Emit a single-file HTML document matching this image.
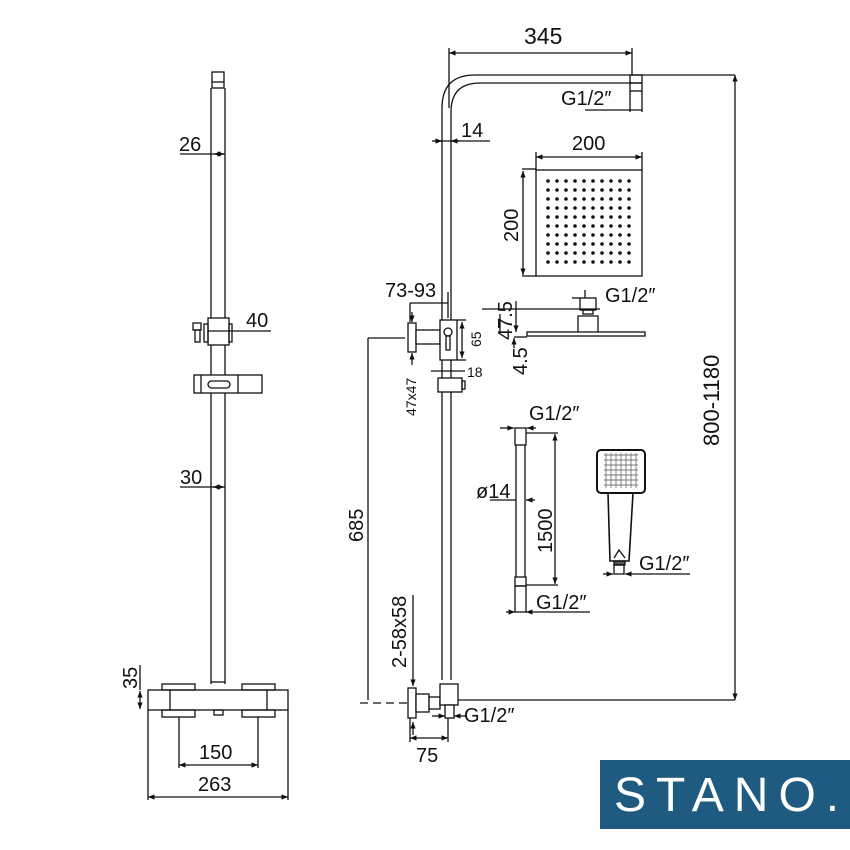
<!DOCTYPE html>
<html><head><meta charset="utf-8"><style>
html,body{margin:0;padding:0;background:#fff;width:850px;height:850px;overflow:hidden}
svg{display:block}
text{font-family:"Liberation Sans",sans-serif;fill:#111}
</style></head><body>
<svg width="850" height="850" viewBox="0 0 850 850" xmlns="http://www.w3.org/2000/svg">
<defs>
<marker id="a" viewBox="0 0 10 10" refX="10" refY="5" markerWidth="5" markerHeight="5" orient="auto-start-reverse"><path d="M0,1L10,5L0,9z" fill="#111"/></marker>
</defs>
<g stroke="#111" stroke-width="1.3" fill="none">
<rect x="212" y="72" width="12" height="16"/>
<line x1="212" y1="82" x2="224" y2="82"/>
<line x1="211" y1="88" x2="211" y2="318"/><line x1="225" y1="88" x2="225" y2="318"/>
<line x1="180" y1="154" x2="225" y2="154"/>
<line x1="214" y1="154" x2="224" y2="154" marker-start="url(#a)" marker-end="url(#a)"/>
<rect x="208" y="318" width="21" height="27" fill="#fff"/>
<rect x="204" y="324" width="4" height="18"/><rect x="229" y="324" width="3" height="18"/>
<rect x="193" y="323" width="8" height="7"/><rect x="195" y="330" width="5" height="12"/>
<line x1="208" y1="331" x2="271" y2="331"/>
<line x1="211" y1="345" x2="211" y2="375"/><line x1="225" y1="345" x2="225" y2="375"/>
<rect x="194" y="375" width="68" height="18"/>
<line x1="201" y1="375" x2="201" y2="393"/><line x1="238" y1="375" x2="238" y2="393"/>
<rect x="208" y="381" width="22" height="7" rx="3.5"/>
<line x1="211" y1="393" x2="211" y2="684"/><line x1="225" y1="393" x2="225" y2="684"/>
<line x1="180" y1="487" x2="225" y2="487"/>
<line x1="213" y1="487" x2="224" y2="487" marker-start="url(#a)" marker-end="url(#a)"/>
<line x1="211" y1="682" x2="225" y2="682"/>
<rect x="148" y="690" width="140" height="20"/>
<line x1="170" y1="690" x2="170" y2="710"/><line x1="267" y1="690" x2="267" y2="710"/>
<rect x="162" y="684" width="33" height="6"/><rect x="242" y="684" width="33" height="6"/>
<rect x="162" y="710" width="33" height="7"/><rect x="242" y="710" width="33" height="7"/>
<rect x="214" y="710" width="9" height="5"/>
<line x1="140" y1="665" x2="140" y2="690"/>
<line x1="140" y1="691" x2="140" y2="709" marker-start="url(#a)" marker-end="url(#a)"/>
<line x1="179" y1="717" x2="179" y2="768"/><line x1="258" y1="717" x2="258" y2="768"/>
<line x1="179" y1="765" x2="258" y2="765" marker-start="url(#a)" marker-end="url(#a)"/>
<line x1="148" y1="710" x2="148" y2="800"/><line x1="288" y1="710" x2="288" y2="800"/>
<line x1="148" y1="797" x2="288" y2="797" marker-start="url(#a)" marker-end="url(#a)"/>

<path d="M442,680 V108 Q442,75 475,75 H632"/>
<path d="M451,680 V112 Q451,83 480,83 H632"/>
<line x1="632" y1="75" x2="735" y2="75"/>
<rect x="630" y="75" width="12" height="8"/>
<rect x="630" y="83" width="12" height="8"/>
<line x1="630" y1="91" x2="630" y2="112"/><line x1="642" y1="91" x2="642" y2="112"/>
<line x1="585" y1="110" x2="642" y2="110"/>
<line x1="449" y1="48" x2="449" y2="108"/><line x1="632" y1="48" x2="632" y2="75"/>
<line x1="449" y1="53" x2="632" y2="53" marker-start="url(#a)" marker-end="url(#a)"/>
<line x1="432" y1="141" x2="490" y2="141"/>
<line x1="434" y1="141" x2="442" y2="141" marker-end="url(#a)"/>
<line x1="460" y1="141" x2="451" y2="141" marker-end="url(#a)"/>
<line x1="735" y1="75" x2="735" y2="700" marker-start="url(#a)" marker-end="url(#a)"/>
<line x1="455" y1="700" x2="735" y2="700"/>

<line x1="410" y1="303" x2="448" y2="303"/>
<line x1="410" y1="303" x2="410" y2="322"/><line x1="448" y1="292" x2="448" y2="318"/>
<rect x="408" y="323" width="8" height="29" fill="#fff"/>
<rect x="416" y="330" width="24" height="14" fill="#fff"/>
<rect x="440" y="320" width="17" height="40" fill="#fff"/>
<circle cx="448" cy="332" r="4"/>
<rect x="446" y="336" width="4" height="14"/>
<line x1="457" y1="320" x2="466" y2="320"/><line x1="457" y1="360" x2="466" y2="360"/>
<line x1="462" y1="322" x2="462" y2="358" marker-start="url(#a)" marker-end="url(#a)"/>
<line x1="412" y1="312" x2="412" y2="322" marker-end="url(#a)"/>
<line x1="412" y1="365" x2="412" y2="353" marker-end="url(#a)"/>
<line x1="431" y1="371" x2="465" y2="371"/>
<rect x="438" y="378" width="24" height="14" fill="#fff"/>
<rect x="462" y="381" width="3" height="8"/>
<line x1="368" y1="338" x2="405" y2="338"/>
<line x1="368" y1="338" x2="368" y2="700"/>
<line x1="360" y1="703" x2="408" y2="703" stroke-dasharray="8,5"/>

<line x1="413" y1="595" x2="413" y2="686" marker-end="url(#a)"/>
<rect x="408" y="688" width="8" height="30" fill="#fff"/>
<rect x="416" y="694" width="13" height="18" fill="#fff"/>
<rect x="429" y="697" width="11" height="12" fill="#fff"/>
<rect x="440" y="684" width="18" height="21" fill="#fff"/>
<rect x="445" y="705" width="9" height="13" fill="#fff"/>
<line x1="413" y1="735" x2="413" y2="722" marker-end="url(#a)"/>
<line x1="410" y1="718" x2="410" y2="742"/><line x1="448" y1="718" x2="448" y2="742"/>
<line x1="410" y1="738" x2="448" y2="738" marker-start="url(#a)" marker-end="url(#a)"/>
<line x1="432" y1="716" x2="445" y2="716" marker-end="url(#a)"/>
<line x1="466" y1="716" x2="454" y2="716" marker-end="url(#a)"/>

<rect x="536" y="170" width="106" height="106"/>
<line x1="522" y1="169" x2="536" y2="169"/><line x1="522" y1="276" x2="536" y2="276"/>
<line x1="523" y1="171" x2="523" y2="275" marker-start="url(#a)" marker-end="url(#a)"/>
<line x1="536" y1="152" x2="536" y2="170"/><line x1="642" y1="152" x2="642" y2="170"/>
<line x1="536" y1="157" x2="642" y2="157" marker-start="url(#a)" marker-end="url(#a)"/>

<rect x="580" y="298" width="16" height="12"/>
<rect x="583" y="310" width="10" height="4"/>
<path d="M578,332 V316 H598 V332"/>
<rect x="527" y="332" width="118" height="4"/>
<line x1="482" y1="309" x2="600" y2="309"/>
<line x1="585" y1="298" x2="585" y2="290"/>
<line x1="572" y1="298" x2="580" y2="298"/>
<line x1="516" y1="301" x2="516" y2="332" marker-end="url(#a)"/>
<line x1="514" y1="337" x2="527" y2="337"/>
<line x1="514" y1="348" x2="514" y2="338" marker-end="url(#a)"/>
<line x1="500" y1="314" x2="500" y2="332"/>

<rect x="515" y="428" width="11" height="17"/>
<line x1="516" y1="445" x2="516" y2="577"/><line x1="525" y1="445" x2="525" y2="577"/>
<rect x="515" y="577" width="11" height="9"/>
<rect x="515" y="586" width="11" height="26"/>
<line x1="500" y1="428" x2="514" y2="428" marker-end="url(#a)"/>
<line x1="536" y1="428" x2="527" y2="428" marker-end="url(#a)"/>
<line x1="526" y1="433" x2="558" y2="433"/><line x1="526" y1="585" x2="558" y2="585"/>
<line x1="555" y1="434" x2="555" y2="584" marker-start="url(#a)" marker-end="url(#a)"/>
<line x1="490" y1="500" x2="516" y2="500"/>
<line x1="535" y1="500" x2="526" y2="500" marker-end="url(#a)"/>
<line x1="506" y1="612" x2="515" y2="612" marker-end="url(#a)"/>
<line x1="590" y1="612" x2="526" y2="612" marker-end="url(#a)"/>

<rect x="597" y="450" width="48" height="43" rx="4" stroke-width="2"/>
<path d="M608,493 L610,561 H629 L633,493" stroke-width="1.6"/>
<path d="M614,558 L619,550 L625,558"/>
<rect x="614" y="561" width="11" height="4" fill="#555"/>
<rect x="614" y="565" width="10" height="9"/>
<line x1="603" y1="574" x2="613" y2="574" marker-end="url(#a)"/>
<line x1="690" y1="574" x2="625" y2="574" marker-end="url(#a)"/>
</g>

<g fill="#111">
<g id="drow">
<circle cx="548" cy="181" r="1.8"/><circle cx="557" cy="181" r="1.8"/><circle cx="566" cy="181" r="1.8"/><circle cx="575" cy="181" r="1.8"/><circle cx="584" cy="181" r="1.8"/><circle cx="593" cy="181" r="1.8"/><circle cx="602" cy="181" r="1.8"/><circle cx="611" cy="181" r="1.8"/><circle cx="620" cy="181" r="1.8"/><circle cx="629" cy="181" r="1.8"/>
</g>
<use href="#drow" y="9"/><use href="#drow" y="18"/><use href="#drow" y="27"/><use href="#drow" y="36"/><use href="#drow" y="45"/><use href="#drow" y="54"/><use href="#drow" y="63"/><use href="#drow" y="72"/><use href="#drow" y="81"/>
</g>
<g stroke="#777" stroke-width="0.9" fill="none">
<path d="M604,455 h34 M604,460 h34 M604,465 h34 M604,470 h34 M604,475 h34 M604,480 h34 M604,485 h34 M606,453 v35 M611,453 v35 M616,453 v35 M621,453 v35 M626,453 v35 M631,453 v35 M636,453 v35"/>
</g>

<g font-size="20">
<text x="179" y="151">26</text>
<text x="246" y="327">40</text>
<text x="180" y="484">30</text>
<text x="199" y="759">150</text>
<text x="198" y="791">263</text>
<text transform="translate(137,689) rotate(-90)">35</text>
<text x="524" y="44" font-size="23">345</text>
<text x="561" y="105">G1/2″</text>
<text x="461" y="137">14</text>
<text x="572" y="150">200</text>
<text transform="translate(518,242) rotate(-90)">200</text>
<text x="385" y="297">73-93</text>
<text x="605" y="302">G1/2″</text>
<text transform="translate(512,340) rotate(-90)">47.5</text>
<text transform="translate(527,375) rotate(-90)">4.5</text>
<text transform="translate(719,446) rotate(-90)" font-size="22">800-1180</text>
<text x="529" y="420">G1/2″</text>
<text x="476" y="498">ø14</text>
<text transform="translate(552,553) rotate(-90)">1500</text>
<text x="639" y="570">G1/2″</text>
<text x="536" y="609">G1/2″</text>
<text transform="translate(363,542) rotate(-90)">685</text>
<text transform="translate(406,668) rotate(-90)">2-58x58</text>
<text x="464" y="722">G1/2″</text>
<text x="416" y="762">75</text>
</g>
<g font-size="14">
<text transform="translate(481,347) rotate(-90)">65</text>
<text x="467" y="377">18</text>
<text transform="translate(416,416) rotate(-90)">47x47</text>
</g>

<rect x="600" y="760" width="250" height="69" fill="#1f5b80"/>
<text x="614" y="811" font-size="48" letter-spacing="10" style="fill:#fff">STANO.</text>
</svg>
</body></html>
